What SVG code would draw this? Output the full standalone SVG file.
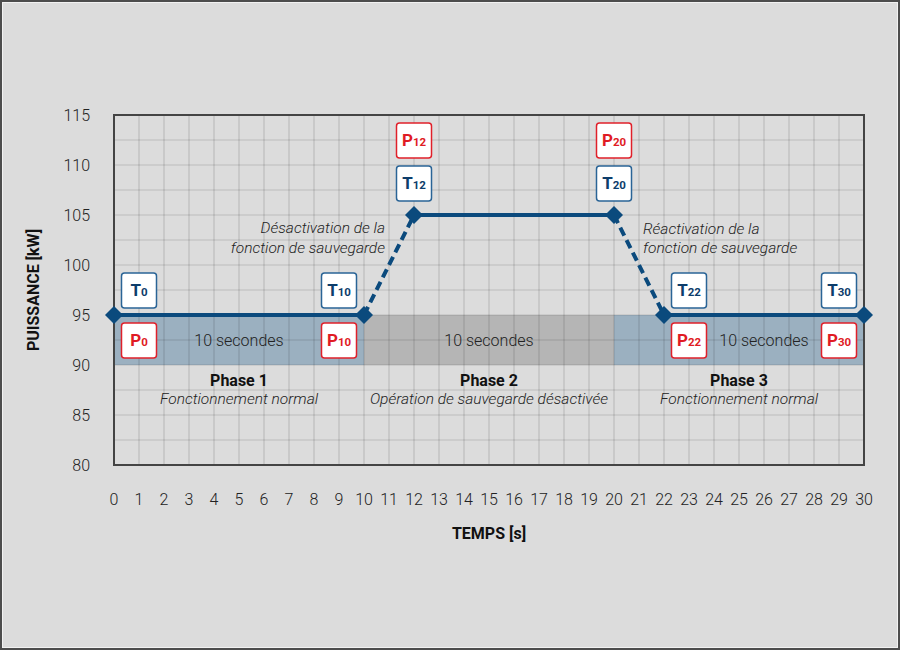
<svg xmlns="http://www.w3.org/2000/svg" width="900" height="650" viewBox="0 0 900 650">
<defs>
<style>
text{font-family:Roboto,"Liberation Sans",sans-serif;}
.ax{font-size:16px;font-weight:300;fill:#222;}
.axt{font-size:16px;font-weight:700;fill:#111;}
.ph{font-size:16px;font-weight:700;fill:#111;text-anchor:middle;}
.phs{font-size:15.5px;font-weight:300;font-style:italic;fill:#222;text-anchor:middle;}
.sec{font-size:16px;font-weight:300;fill:#222;text-anchor:middle;}
.ann{font-size:15.5px;font-weight:300;font-style:italic;fill:#222;}
.grid line{stroke:#000;stroke-opacity:0.14;stroke-width:1.2;}
.tb rect{fill:#fff;stroke:#2a6496;stroke-width:1.5;}
.tb text{fill:#0d3d6b;font-weight:700;font-size:17px;text-anchor:middle;}
.pb rect{fill:#fff;stroke:#e0202a;stroke-width:1.5;}
.pb text{fill:#e01b24;font-weight:700;font-size:17px;text-anchor:middle;}
.sub{font-size:11.5px;}
.dia{fill:#0b4a7d;}
</style>
</defs>
<rect x="0" y="0" width="900" height="650" fill="#dcdcdc"/>
<rect x="1" y="1" width="898" height="648" fill="none" stroke="#4d4d4d" stroke-width="2"/>
<rect x="2.5" y="2.5" width="895" height="645" fill="none" stroke="#f2f2f2" stroke-width="1"/>

<g id="bands">
<rect x="114" y="315" width="250" height="50" fill="#9bb0c0"/>
<rect x="364" y="315" width="250" height="50" fill="#b5b5b5"/>
<rect x="614" y="315" width="250" height="50" fill="#9bb0c0"/>
</g>

<g class="grid" id="grid">
<line x1="139" y1="115" x2="139" y2="465"/><line x1="164" y1="115" x2="164" y2="465"/><line x1="189" y1="115" x2="189" y2="465"/><line x1="214" y1="115" x2="214" y2="465"/><line x1="239" y1="115" x2="239" y2="465"/><line x1="264" y1="115" x2="264" y2="465"/><line x1="289" y1="115" x2="289" y2="465"/><line x1="314" y1="115" x2="314" y2="465"/><line x1="339" y1="115" x2="339" y2="465"/><line x1="364" y1="115" x2="364" y2="465"/><line x1="389" y1="115" x2="389" y2="465"/><line x1="414" y1="115" x2="414" y2="465"/><line x1="439" y1="115" x2="439" y2="465"/><line x1="464" y1="115" x2="464" y2="465"/><line x1="489" y1="115" x2="489" y2="465"/><line x1="514" y1="115" x2="514" y2="465"/><line x1="539" y1="115" x2="539" y2="465"/><line x1="564" y1="115" x2="564" y2="465"/><line x1="589" y1="115" x2="589" y2="465"/><line x1="614" y1="115" x2="614" y2="465"/><line x1="639" y1="115" x2="639" y2="465"/><line x1="664" y1="115" x2="664" y2="465"/><line x1="689" y1="115" x2="689" y2="465"/><line x1="714" y1="115" x2="714" y2="465"/><line x1="739" y1="115" x2="739" y2="465"/><line x1="764" y1="115" x2="764" y2="465"/><line x1="789" y1="115" x2="789" y2="465"/><line x1="814" y1="115" x2="814" y2="465"/><line x1="839" y1="115" x2="839" y2="465"/>
<line x1="114" y1="140" x2="864" y2="140"/><line x1="114" y1="165" x2="864" y2="165"/><line x1="114" y1="190" x2="864" y2="190"/><line x1="114" y1="215" x2="864" y2="215"/><line x1="114" y1="240" x2="864" y2="240"/><line x1="114" y1="265" x2="864" y2="265"/><line x1="114" y1="290" x2="864" y2="290"/><line x1="114" y1="315" x2="864" y2="315"/><line x1="114" y1="340" x2="864" y2="340"/><line x1="114" y1="365" x2="864" y2="365"/><line x1="114" y1="390" x2="864" y2="390"/><line x1="114" y1="415" x2="864" y2="415"/><line x1="114" y1="440" x2="864" y2="440"/>
</g>
<rect x="114" y="115" width="750" height="350" fill="none" stroke="#444" stroke-width="2"/>

<g id="yaxis" class="ax" text-anchor="end">
<text x="90" y="121">115</text><text x="90" y="171">110</text><text x="90" y="221">105</text><text x="90" y="271">100</text><text x="90" y="321">95</text><text x="90" y="371">90</text><text x="90" y="421">85</text><text x="90" y="471">80</text>
</g>
<g id="xaxis" class="ax" text-anchor="middle">
<text x="114" y="505">0</text><text x="139" y="505">1</text><text x="164" y="505">2</text><text x="189" y="505">3</text><text x="214" y="505">4</text><text x="239" y="505">5</text><text x="264" y="505">6</text><text x="289" y="505">7</text><text x="314" y="505">8</text><text x="339" y="505">9</text><text x="364" y="505">10</text><text x="389" y="505">11</text><text x="414" y="505">12</text><text x="439" y="505">13</text><text x="464" y="505">14</text><text x="489" y="505">15</text><text x="514" y="505">16</text><text x="539" y="505">17</text><text x="564" y="505">18</text><text x="589" y="505">19</text><text x="614" y="505">20</text><text x="639" y="505">21</text><text x="664" y="505">22</text><text x="689" y="505">23</text><text x="714" y="505">24</text><text x="739" y="505">25</text><text x="764" y="505">26</text><text x="789" y="505">27</text><text x="814" y="505">28</text><text x="839" y="505">29</text><text x="864" y="505">30</text>
</g>
<text class="axt" x="489" y="539" text-anchor="middle">TEMPS [s]</text>
<text class="axt" transform="translate(39,290) rotate(-90)" text-anchor="middle">PUISSANCE [kW]</text>

<g id="phase-labels">
<text class="sec" x="239" y="346">10 secondes</text>
<text class="sec" x="489" y="346">10 secondes</text>
<text class="sec" x="764" y="346">10 secondes</text>
<text class="ph" x="239" y="386">Phase 1</text>
<text class="phs" x="239" y="404">Fonctionnement normal</text>
<text class="ph" x="489" y="386">Phase 2</text>
<text class="phs" x="489" y="404">Opération de sauvegarde désactivée</text>
<text class="ph" x="739" y="386">Phase 3</text>
<text class="phs" x="739" y="404">Fonctionnement normal</text>
</g>

<g id="annotations" class="ann">
<text x="385" y="233" text-anchor="end">Désactivation de la</text>
<text x="385" y="253" text-anchor="end">fonction de sauvegarde</text>
<text x="643" y="234">Réactivation de la</text>
<text x="643" y="253">fonction de sauvegarde</text>
</g>

<g id="connectors" fill="none" stroke="#0b4a7d" stroke-width="4">
<line x1="114" y1="315" x2="364" y2="315"/>
<line x1="414" y1="215" x2="614" y2="215"/>
<line x1="664" y1="315" x2="864" y2="315"/>
<line x1="364" y1="315" x2="414" y2="215" stroke-dasharray="9 5"/>
<line x1="614" y1="215" x2="664" y2="315" stroke-dasharray="9 5"/>
</g>

<g id="points" class="dia">
<polygon points="114,306 123,315 114,324 105,315"/>
<polygon points="364,306 373,315 364,324 355,315"/>
<polygon points="414,206 423,215 414,224 405,215"/>
<polygon points="614,206 623,215 614,224 605,215"/>
<polygon points="664,306 673,315 664,324 655,315"/>
<polygon points="864,306 873,315 864,324 855,315"/>
</g>

<g id="T0" class="tb"><rect x="121.5" y="273" width="35" height="35" rx="3"/><text x="139" y="296">T<tspan class="sub">0</tspan></text></g>
<g id="P0" class="pb"><rect x="121.5" y="323" width="35" height="35" rx="3"/><text x="139" y="346">P<tspan class="sub">0</tspan></text></g>
<g id="T10" class="tb"><rect x="321.5" y="273" width="35" height="35" rx="3"/><text x="339" y="296">T<tspan class="sub">10</tspan></text></g>
<g id="P10" class="pb"><rect x="321.5" y="323" width="35" height="35" rx="3"/><text x="339" y="346">P<tspan class="sub">10</tspan></text></g>
<g id="P12" class="pb"><rect x="396.5" y="123" width="35" height="35" rx="3"/><text x="414" y="146">P<tspan class="sub">12</tspan></text></g>
<g id="T12" class="tb"><rect x="396.5" y="166" width="35" height="35" rx="3"/><text x="414" y="189">T<tspan class="sub">12</tspan></text></g>
<g id="P20" class="pb"><rect x="596.5" y="123" width="35" height="35" rx="3"/><text x="614" y="146">P<tspan class="sub">20</tspan></text></g>
<g id="T20" class="tb"><rect x="596.5" y="166" width="35" height="35" rx="3"/><text x="614" y="189">T<tspan class="sub">20</tspan></text></g>
<g id="T22" class="tb"><rect x="671.5" y="273" width="35" height="35" rx="3"/><text x="689" y="296">T<tspan class="sub">22</tspan></text></g>
<g id="P22" class="pb"><rect x="671.5" y="323" width="35" height="35" rx="3"/><text x="689" y="346">P<tspan class="sub">22</tspan></text></g>
<g id="T30" class="tb"><rect x="821.5" y="273" width="35" height="35" rx="3"/><text x="839" y="296">T<tspan class="sub">30</tspan></text></g>
<g id="P30" class="pb"><rect x="821.5" y="323" width="35" height="35" rx="3"/><text x="839" y="346">P<tspan class="sub">30</tspan></text></g>
</svg>
